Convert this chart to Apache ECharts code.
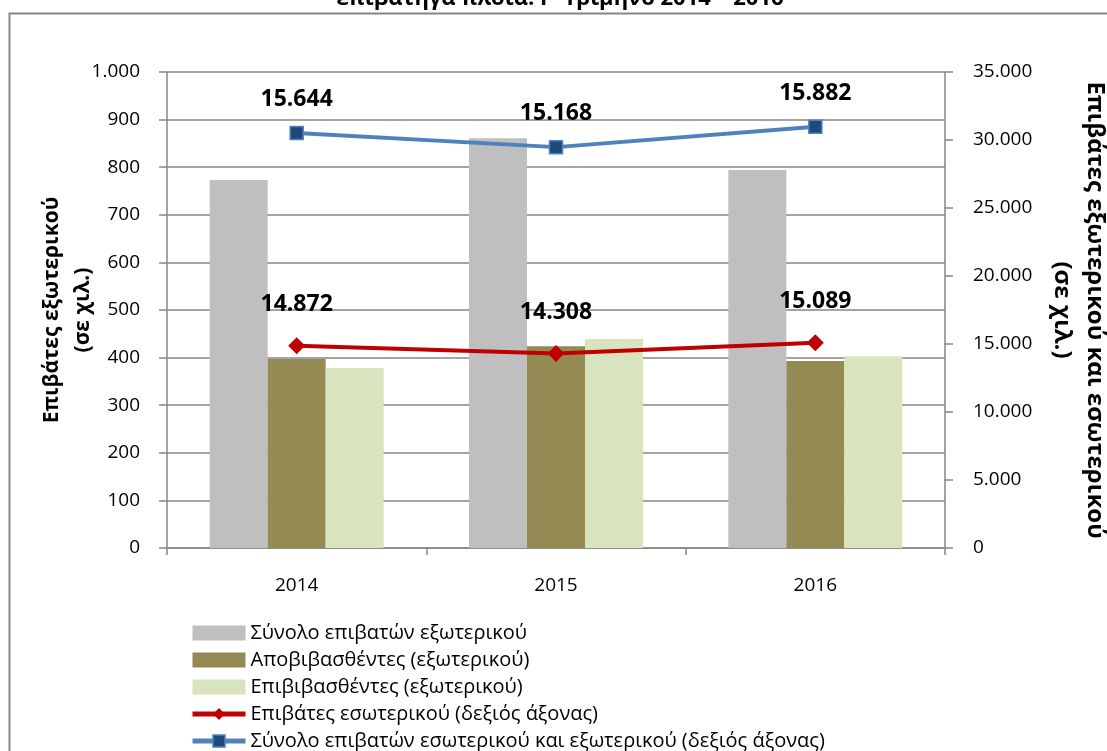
<!DOCTYPE html>
<html>
<head>
<meta charset="utf-8">
<script src="https://cdn.jsdelivr.net/npm/echarts@6/dist/echarts.min.js"></script>
<style>
  html, body { margin: 0; padding: 0; background: #fff; }
  #chart { width: 1107px; height: 751px; }
</style>
</head>
<body>
<div id="chart"></div>
<script>
// δεδομένα (χιλ. επιβάτες)
var years = ['2014', '2015', '2016'];
var totalForeign = [773, 861, 794];        // Σύνολο επιβατών εξωτερικού
var disembarked = [397, 424, 393];         // Αποβιβασθέντες
var embarked = [378, 439, 403];            // Επιβιβασθέντες
var domestic = [14872, 14308, 15089];      // Επιβάτες εσωτερικού (δεξιός άξονας)
var totalAll = [30516, 29476, 30971];      // Σύνολο εσωτερικού και εξωτερικού (δεξιός άξονας)
var totalAllLabels = [15644, 15168, 15882]; // ετικέτες όπως εμφανίζονται στο γράφημα

function fmt(v) {
  return String(v).replace(/\B(?=(\d{3})+(?!\d))/g, '.');
}

var font = '"Open Sans", "Noto Sans", sans-serif';
var myChart = echarts.init(document.getElementById('chart'));

var option = {
  animation: false,
  textStyle: { fontFamily: font },
  graphic: [
    {
      type: 'rect',
      shape: { x: 9.5, y: 13.5, width: 1120, height: 780 },
      style: { fill: 'none', stroke: '#868686', lineWidth: 2 },
      z: -1
    },
    {
      type: 'text',
      x: 560, y: -12,
      style: {
        text: "επιβατηγά πλοία: Γ' Τρίμηνο 2014 – 2016",
        font: 'bold 22px ' + font,
        fill: '#000',
        align: 'center'
      }
    }
  ],
  grid: { left: 167, right: 162, top: 72, bottom: 203, outerBoundsMode: 'none' },
  legend: {
    orient: 'vertical',
    left: 190,
    top: 623,
    height: 140,
    padding: 0,
    itemWidth: 53,
    itemHeight: 15,
    itemGap: 7,
    textStyle: { fontSize: 20, color: '#000', fontFamily: font },
    data: [
      { name: 'Σύνολο επιβατών εξωτερικού', icon: 'rect' },
      { name: 'Αποβιβασθέντες (εξωτερικού)', icon: 'rect' },
      { name: 'Επιβιβασθέντες (εξωτερικού)', icon: 'rect' },
      {
        name: 'Επιβάτες εσωτερικού (δεξιός άξονας)',
        lineStyle: { width: 5, color: '#C00000' },
        itemStyle: { color: '#C00000' }
      },
      {
        name: 'Σύνολο επιβατών εσωτερικού και εξωτερικού (δεξιός άξονας)',
        lineStyle: { width: 5, color: '#4F81BD' },
        itemStyle: { color: '#1F497D', borderColor: '#4F81BD', borderWidth: 1.5 }
      }
    ]
  },
  xAxis: {
    type: 'category',
    data: years,
    axisLine: { lineStyle: { color: '#868686', width: 1.5 } },
    axisTick: { show: true, length: 7, lineStyle: { color: '#868686', width: 1.5 } },
    axisLabel: { fontSize: 19, color: '#000', margin: 28 }
  },
  yAxis: [
    {
      type: 'value',
      min: 0, max: 1000, interval: 100,
      name: 'Επιβάτες εξωτερικού\n(σε χιλ.)',
      nameLocation: 'middle',
      nameRotate: 90,
      nameGap: 68,
      nameMoveOverlap: false,
      nameTextStyle: { fontSize: 21, fontWeight: 'bold', color: '#000', lineHeight: 31 },
      axisLine: { show: true, lineStyle: { color: '#868686', width: 1.5 } },
      axisTick: { show: true, length: 8, lineStyle: { color: '#868686', width: 1.5 } },
      axisLabel: { fontSize: 19, color: '#000', margin: 27, formatter: fmt },
      splitLine: { lineStyle: { color: '#868686', width: 1.5 } }
    },
    {
      type: 'value',
      min: 0, max: 35000, interval: 5000,
      name: 'Επιβάτες εξωτερικού και εσωτερικού\n(σε χιλ.)',
      nameLocation: 'middle',
      nameRotate: -90,
      nameGap: 100,
      nameTextStyle: { fontSize: 24, fontWeight: 'bold', color: '#000', lineHeight: 33 },
      axisLine: { show: true, lineStyle: { color: '#868686', width: 1.5 } },
      axisTick: { show: true, length: 8, lineStyle: { color: '#868686', width: 1.5 } },
      axisLabel: { fontSize: 19, color: '#000', margin: 28, formatter: fmt },
      splitLine: { show: false }
    }
  ],
  series: [
    {
      name: 'Σύνολο επιβατών εξωτερικού',
      type: 'bar',
      barWidth: 58,
      barGap: '0%',
      itemStyle: { color: '#BFBFBF' },
      data: totalForeign
    },
    {
      name: 'Αποβιβασθέντες (εξωτερικού)',
      type: 'bar',
      barWidth: 58,
      barGap: '0%',
      itemStyle: { color: '#948A54' },
      data: disembarked
    },
    {
      name: 'Επιβιβασθέντες (εξωτερικού)',
      type: 'bar',
      barWidth: 58,
      barGap: '0%',
      itemStyle: { color: '#D7E4BD' },
      data: embarked
    },
    {
      name: 'Επιβάτες εσωτερικού (δεξιός άξονας)',
      type: 'line',
      yAxisIndex: 1,
      symbol: 'diamond',
      symbolSize: 17,
      lineStyle: { color: '#C00000', width: 4 },
      itemStyle: { color: '#C00000' },
      label: {
        show: true, position: 'top', distance: 21,
        fontSize: 23, fontWeight: 'bold', color: '#000',
        formatter: function (p) { return fmt(p.value); }
      },
      data: domestic
    },
    {
      name: 'Σύνολο επιβατών εσωτερικού και εξωτερικού (δεξιός άξονας)',
      type: 'line',
      yAxisIndex: 1,
      symbol: 'rect',
      symbolSize: 13,
      lineStyle: { color: '#4F81BD', width: 4 },
      itemStyle: { color: '#1F497D', borderColor: '#4F81BD', borderWidth: 1.5 },
      label: {
        show: true, position: 'top', distance: 15,
        fontSize: 23, fontWeight: 'bold', color: '#000',
        formatter: function (p) { return fmt(totalAllLabels[p.dataIndex]); }
      },
      data: totalAll
    }
  ]
};

myChart.setOption(option);
</script>
</body>
</html>
